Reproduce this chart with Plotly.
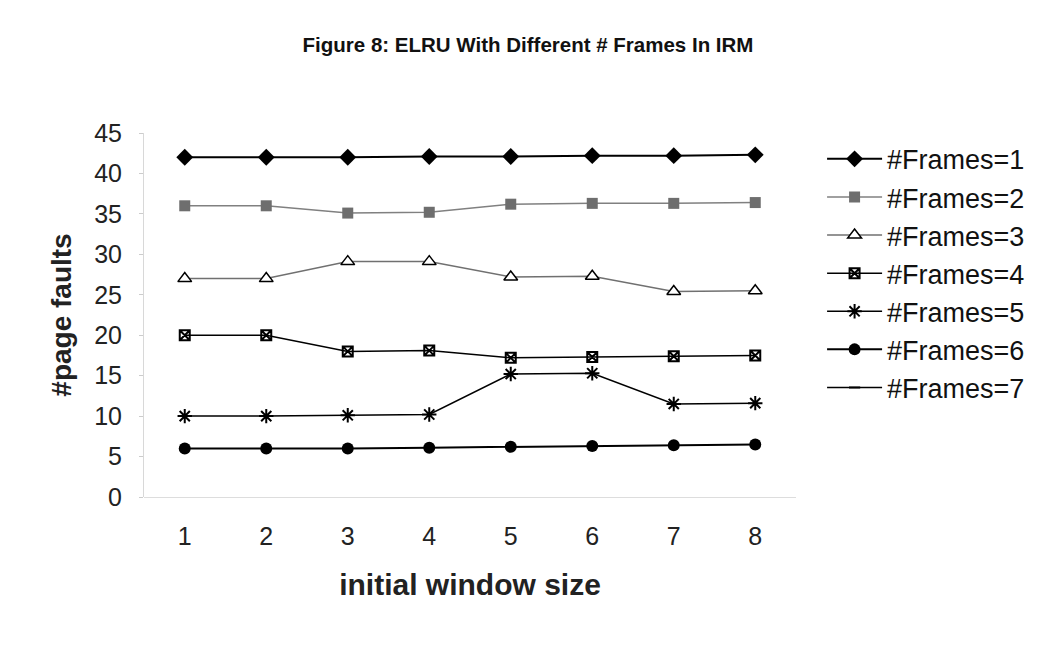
import plotly.graph_objects as go

window_size = [1, 2, 3, 4, 5, 6, 7, 8]
frames1 = [42, 42, 42, 42.1, 42.1, 42.2, 42.2, 42.3]
frames2 = [36, 36, 35.1, 35.2, 36.2, 36.3, 36.3, 36.4]
frames3 = [27, 27, 29.1, 29.1, 27.2, 27.3, 25.4, 25.5]
frames4 = [20, 20, 18, 18.1, 17.2, 17.3, 17.4, 17.5]
frames5 = [10, 10, 10.1, 10.2, 15.2, 15.3, 11.5, 11.6]
frames6 = [6, 6, 6, 6.1, 6.2, 6.3, 6.4, 6.5]
frames7 = [None] * 8
y_ticks = [0, 5, 10, 15, 20, 25, 30, 35, 40, 45]

series = [
    ("#Frames=1", frames1, dict(symbol="diamond", size=13, color="black"), "black", 2),
    ("#Frames=2", frames2, dict(symbol="square", size=11, color="#6e6e6e"), "#808080", 1.5),
    ("#Frames=3", frames3, dict(symbol="triangle-up", size=12, color="white",
                                line=dict(color="black", width=1.5)), "#707070", 1.5),
    ("#Frames=4", frames4, dict(symbol="square-x-open", size=10, color="black",
                                line=dict(color="black", width=2)), "black", 1.5),
    ("#Frames=5", frames5, dict(symbol="asterisk-open", size=12, color="black",
                                line=dict(color="black", width=2)), "black", 1.5),
    ("#Frames=6", frames6, dict(symbol="circle", size=12, color="black"), "black", 2),
    ("#Frames=7", frames7, dict(symbol="line-ew-open", size=8, color="black",
                                line=dict(color="black", width=2)), "black", 1.5),
]

fig = go.Figure()
for i, (name, vals, marker, lc, lw) in enumerate(series):
    fig.add_trace(go.Scatter(
        x=window_size, y=vals, name=name, mode="lines+markers",
        marker=marker, line=dict(color=lc, width=lw),
        legendgroup=f"g{i}", showlegend=True,
    ))

fig.update_layout(
    width=1050, height=666,
    paper_bgcolor="white", plot_bgcolor="white",
    margin=dict(l=136, r=262, t=125, b=177),
    font=dict(family="Liberation Sans, Arial, sans-serif", color="#222"),
    title=dict(text="<b>Figure 8: ELRU With Different # Frames In IRM</b>",
               x=520 / 1050, xanchor="center", y=1 - 37 / 666, yanchor="middle",
               font=dict(size=20.5, family="Liberation Sans, Arial", color="#111")),
    legend=dict(x=1.04, xanchor="left", y=0.995, yanchor="top",
                font=dict(size=27, color="#111"), itemwidth=55,
                tracegroupgap=0, bgcolor="rgba(0,0,0,0)",
                borderwidth=0),
    showlegend=True,
)

fig.update_xaxes(
    range=[0.5, 8.5], tickvals=window_size, ticks="",
    ticklabelstandoff=22,
    showgrid=False, zeroline=False, showline=False,
    tickfont=dict(size=25, color="#222"),
    title=dict(text="<b>initial window size</b>", font=dict(size=30, color="#222"), standoff=24),
)
fig.update_yaxes(
    range=[0, 45], tickvals=y_ticks, ticks="outside", ticklen=4, tickcolor="#cccccc",
    ticklabelstandoff=12,
    showgrid=False, zeroline=True, zerolinecolor="#dddddd", zerolinewidth=1,
    showline=True, linecolor="#d8d8d8", linewidth=1,
    tickfont=dict(size=25, color="#222"),
    title=dict(text="<b>#page faults</b>", font=dict(size=28, color="#222"), standoff=14),
)

fig.write_html("out.html")
